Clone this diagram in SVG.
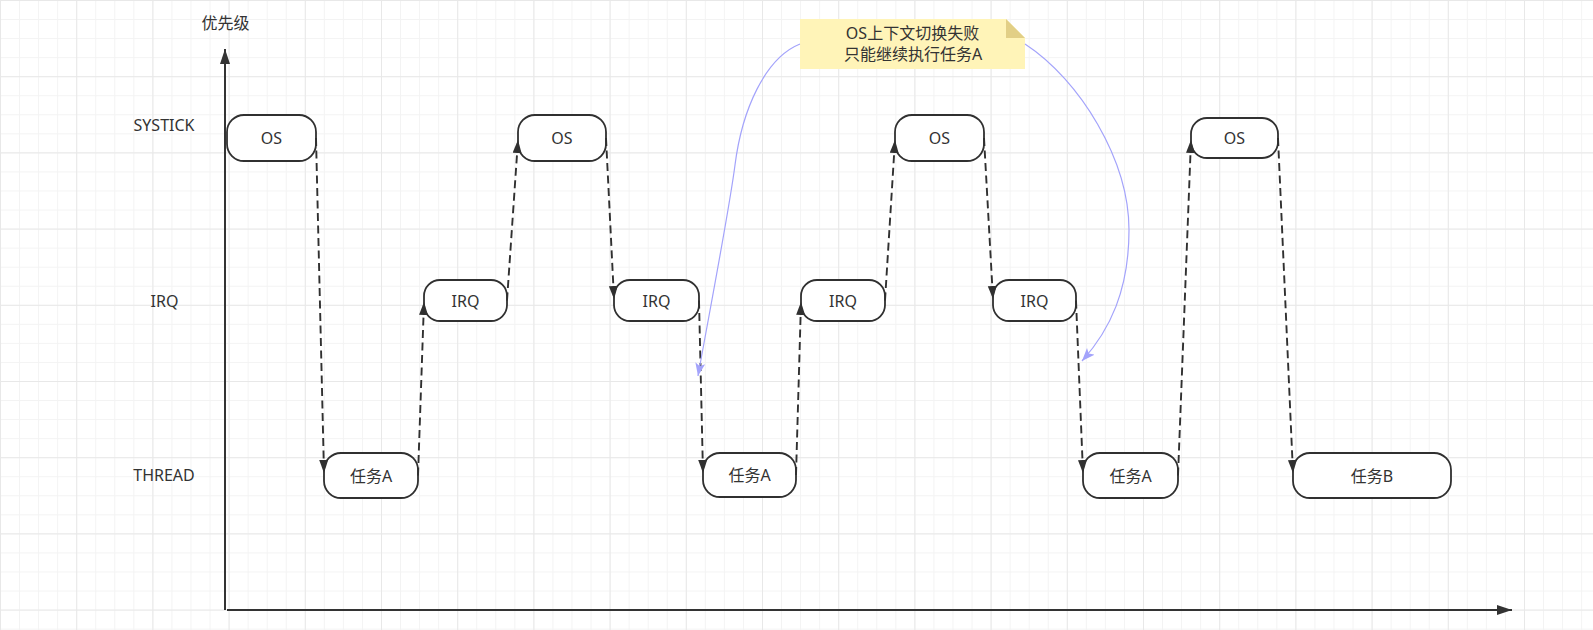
<svg xmlns="http://www.w3.org/2000/svg" width="1593" height="630" viewBox="0 0 1593 630">
<style>
.node rect{fill:#fff;stroke:#303030;stroke-width:1.8}
.lbl{font-family:"Noto Sans","Noto Sans CJK SC",sans-serif;font-size:16px;fill:#333;text-anchor:middle}
.edge{fill:none;stroke:#303030;stroke-width:1.9;stroke-dasharray:8 4.5;marker-end:url(#blk)}
.note-edge{fill:none;stroke:#a3a3fb;stroke-width:1.2;marker-end:url(#blue)}
.axis{fill:none;stroke:#333;stroke-width:2}
</style>
<defs>
<pattern id="minor" width="19.05" height="19.05" patternUnits="userSpaceOnUse">
<rect x="0" y="0" width="19.05" height="1" fill="#f3f3f3"/>
<rect x="0" y="0" width="1" height="19.05" fill="#f3f3f3"/>
</pattern>
<pattern id="major" width="76.2" height="76.2" patternUnits="userSpaceOnUse">
<rect x="0" y="0" width="76.2" height="1" fill="#e8e8e8"/>
<rect x="0" y="0" width="1" height="76.2" fill="#e8e8e8"/>
</pattern>
<marker id="blk" markerUnits="userSpaceOnUse" markerWidth="14" markerHeight="10" refX="13" refY="4.5" orient="auto" viewBox="0 0 14 10">
<path d="M0,0 L13,4.5 L0,9 Z" fill="#303030"/>
</marker>
<marker id="blue" markerUnits="userSpaceOnUse" markerWidth="14" markerHeight="12" refX="13" refY="5" orient="auto" viewBox="0 0 14 12">
<path d="M0,0 L13,5 L0,10 L3,5 Z" fill="#a3a3fb"/>
</marker>
<marker id="ax" markerUnits="userSpaceOnUse" markerWidth="16" markerHeight="11" refX="15" refY="5" orient="auto" viewBox="0 0 16 11">
<path d="M0,0 L15,5 L0,10 Z" fill="#333"/>
</marker>
</defs>
<rect width="1593" height="630" fill="#fff"/>
<rect width="1593" height="630" fill="url(#minor)"/>
<rect width="1593" height="630" fill="url(#major)"/>

<g id="axes">
<path class="axis" d="M225,610 L225,49" marker-end="url(#ax)"/>
<path class="axis" d="M227,610 L1512,610" marker-end="url(#ax)"/>
<text class="lbl" x="225.5" y="28.5">优先级</text>
<text class="lbl" x="164" y="131">SYSTICK</text>
<text class="lbl" x="164.5" y="306.5">IRQ</text>
<text class="lbl" x="164" y="480.5">THREAD</text>
</g>

<g id="os1" class="node"><rect x="227" y="115" width="89" height="46" rx="17"/><text class="lbl" x="271.5" y="144">OS</text></g>
<g id="os2" class="node"><rect x="518" y="115" width="88" height="46" rx="17"/><text class="lbl" x="562" y="144">OS</text></g>
<g id="os3" class="node"><rect x="895" y="115" width="89" height="46" rx="17"/><text class="lbl" x="939.5" y="144">OS</text></g>
<g id="os4" class="node"><rect x="1191" y="118" width="87" height="40" rx="16"/><text class="lbl" x="1234.5" y="144">OS</text></g>
<g id="irq1" class="node"><rect x="424" y="280" width="83" height="41" rx="16"/><text class="lbl" x="465.5" y="306.5">IRQ</text></g>
<g id="irq2" class="node"><rect x="614" y="280" width="85" height="41" rx="16"/><text class="lbl" x="656.5" y="306.5">IRQ</text></g>
<g id="irq3" class="node"><rect x="801" y="280" width="84" height="41" rx="16"/><text class="lbl" x="843" y="306.5">IRQ</text></g>
<g id="irq4" class="node"><rect x="993" y="280" width="83" height="41" rx="16"/><text class="lbl" x="1034.5" y="306.5">IRQ</text></g>
<g id="taskA1" class="node"><rect x="324" y="453" width="94" height="45" rx="17"/><text class="lbl" x="371" y="481.5">任务A</text></g>
<g id="taskA2" class="node"><rect x="703" y="453" width="93" height="44" rx="17"/><text class="lbl" x="749.5" y="481">任务A</text></g>
<g id="taskA3" class="node"><rect x="1083" y="453" width="95" height="45" rx="17"/><text class="lbl" x="1130.5" y="481.5">任务A</text></g>
<g id="taskB" class="node"><rect x="1293" y="453" width="158" height="45" rx="17"/><text class="lbl" x="1372" y="481.5">任务B</text></g>

<g id="note">
<path d="M800,19 L1006,19 L1025,38 L1025,69 L800,69 Z" fill="#fff4b8"/>
<path d="M1006,19 L1006,38 L1025,38 Z" fill="#e2cf86"/>
<text class="lbl" x="912.5" y="39">OS上下文切换失败</text>
<text class="lbl" x="913" y="60">只能继续执行任务A</text>
</g>

<g id="connectors">
<path class="edge" d="M316,138 L324,473"/>
<path class="edge" d="M418,475.5 L424,302"/>
<path class="edge" d="M507,300.5 L518,140"/>
<path class="edge" d="M606,138 L614,299"/>
<path class="edge" d="M699,300.5 L703,473"/>
<path class="edge" d="M796,475 L801,302"/>
<path class="edge" d="M885,300.5 L895,140"/>
<path class="edge" d="M984,138 L993,299"/>
<path class="edge" d="M1076,300.5 L1083,473"/>
<path class="edge" d="M1178,475.5 L1191,140"/>
<path class="edge" d="M1278,138 L1293,473"/>
<path class="note-edge" d="M800,44 C765,58 742,110 735,165 C729.4,209 708,320 698,376"/>
<path class="note-edge" d="M1025,44 C1080,80 1129,160 1129,230 C1129,290 1110,330 1082,361"/>
</g>
</svg>
